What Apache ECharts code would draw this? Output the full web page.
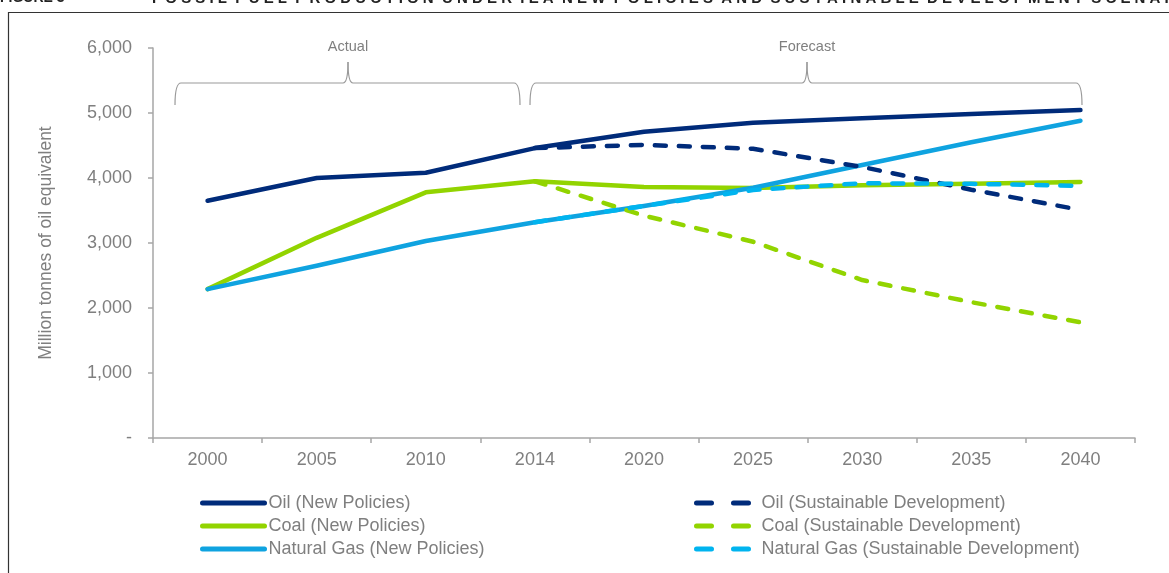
<!DOCTYPE html>
<html>
<head>
<meta charset="utf-8">
<script src="https://cdn.jsdelivr.net/npm/echarts@6/dist/echarts.min.js"></script>
<style>
  html, body { margin: 0; padding: 0; background: #fff; }
  #chart { width: 1169px; height: 573px; }
</style>
</head>
<body>
<div id="chart"></div>
<script>
// categories and values (Mtoe)
var years = ['2000', '2005', '2010', '2014', '2020', '2025', '2030', '2035', '2040'];
var oilNew = [3650, 4000, 4080, 4460, 4710, 4850, 4920, 4985, 5045];
var coalNew = [2290, 3080, 3780, 3950, 3860, 3845, 3890, 3910, 3940];
var gasNew = [2290, 2650, 3030, 3320, 3570, 3850, 4200, 4550, 4880];
var oilSD = [null, null, null, 4460, 4510, 4450, 4170, 3820, 3510];
var coalSD = [null, null, null, 3950, 3420, 3020, 2430, 2090, 1780];
var gasSD = [null, null, null, 3320, 3570, 3815, 3920, 3910, 3880];

var NAVY = '#002b7a', LIME = '#92d400', BLUE = '#0fa3e0', SKY = '#00b4ef';
var grey = '#7f7f7f';
var font = 'Liberation Sans, Arial, sans-serif';

function solid(name, color, data) {
    return {
        name: name, type: 'line', data: data, symbol: 'none',
        lineStyle: { color: color, width: 4.5, cap: 'round', join: 'round' },
        itemStyle: { color: color }
    };
}
function dashed(name, color, data) {
    return {
        name: name, type: 'line', data: data, symbol: 'none',
        lineStyle: { color: color, width: 4.5, type: [11, 13], cap: 'round' },
        itemStyle: { color: color }
    };
}

// curly bracket between a and b with its tip at m
function bracket(a, b, m) {
    var st = { stroke: '#999', lineWidth: 1.2, fill: 'none' };
    var top = 83, low = 105, tip = 62;
    return [
        { type: 'bezierCurve', silent: true, style: st, shape: { x1: a, y1: low, cpx1: a, cpy1: top, x2: a + 6, y2: top } },
        { type: 'line', silent: true, style: st, shape: { x1: a + 6, y1: top, x2: m - 5, y2: top } },
        { type: 'bezierCurve', silent: true, style: st, shape: { x1: m - 5, y1: top, cpx1: m, cpy1: top, x2: m, y2: tip } },
        { type: 'bezierCurve', silent: true, style: st, shape: { x1: m, y1: tip, cpx1: m, cpy1: top, x2: m + 5, y2: top } },
        { type: 'line', silent: true, style: st, shape: { x1: m + 5, y1: top, x2: b - 6, y2: top } },
        { type: 'bezierCurve', silent: true, style: st, shape: { x1: b - 6, y1: top, cpx1: b, cpy1: top, x2: b, y2: low } }
    ];
}

var graphics = [
    { type: 'rect', silent: true, shape: { x: 8.5, y: 12.5, width: 1300, height: 700 },
      style: { fill: 'none', stroke: '#333', lineWidth: 1.2 } },
    { type: 'text', x: 0, y: -9, silent: true,
      style: { text: 'FIGURE 3', fill: '#222', font: 'bold 14px ' + font } },
    { type: 'text', x: 152, y: -9, silent: true,
      style: { text: 'F O S S I L  F U E L  P R O D U C T I O N  U N D E R  I E A  N E W  P O L I C I E S  A N D  S U S T A I N A B L E  D E V E L O P M E N T  S C E N A R I O S',
               fill: '#222', font: 'bold 15px ' + font } },
    { type: 'text', x: 348, y: 39, silent: true,
      style: { text: 'Actual', fill: grey, font: '14.5px ' + font, textAlign: 'center' } },
    { type: 'text', x: 807, y: 39, silent: true,
      style: { text: 'Forecast', fill: grey, font: '14.5px ' + font, textAlign: 'center' } }
].concat(bracket(175, 520, 348), bracket(530, 1082, 807));

var myChart = echarts.init(document.getElementById('chart'));
var options = {
    backgroundColor: '#fff',
    animation: false,
    grid: { left: 153, right: 34, top: 48, bottom: 135 },
    xAxis: {
        type: 'category',
        data: years,
        boundaryGap: true,
        axisLine: { lineStyle: { color: '#a6a6a6', width: 1.5 } },
        axisTick: { show: true, length: 5, lineStyle: { color: '#a6a6a6', width: 1.5 } },
        axisLabel: { color: grey, fontSize: 18, fontFamily: font, margin: 13 }
    },
    yAxis: {
        type: 'value',
        min: 0, max: 6000, interval: 1000,
        name: 'Million tonnes of oil equivalent',
        nameLocation: 'middle',
        nameGap: 98,
        nameTextStyle: { color: grey, fontSize: 17.5, fontFamily: font },
        splitLine: { show: false },
        axisLine: { show: true, lineStyle: { color: '#a6a6a6', width: 1.5 } },
        axisTick: { show: true, length: 5, lineStyle: { color: '#a6a6a6', width: 1.5 } },
        axisLabel: {
            color: grey, fontSize: 18, fontFamily: font, margin: 21,
            formatter: function (v) { return v === 0 ? '-' : v.toLocaleString('en-US'); }
        }
    },
    legend: [
        {
            left: 195, top: 489, orient: 'vertical',
            itemWidth: 62, itemHeight: 14, itemGap: 5,
            itemStyle: { opacity: 0 },
            lineStyle: { width: 5, cap: 'round' },
            textStyle: { color: grey, fontSize: 18, fontFamily: font, padding: [0, 0, 0, -1] },
            data: ['Oil (New Policies)', 'Coal (New Policies)', 'Natural Gas (New Policies)']
        },
        {
            left: 689, top: 489, orient: 'vertical',
            itemWidth: 57, itemHeight: 14, itemGap: 5,
            itemStyle: { opacity: 0 },
            lineStyle: { width: 5, cap: 'round', type: [15, 22] },
            textStyle: { color: grey, fontSize: 18, fontFamily: font, padding: [0, 0, 0, 3] },
            data: ['Oil (Sustainable Development)', 'Coal (Sustainable Development)', 'Natural Gas (Sustainable Development)']
        }
    ],
    graphic: graphics,
    series: [
        solid('Oil (New Policies)', NAVY, oilNew),
        solid('Coal (New Policies)', LIME, coalNew),
        solid('Natural Gas (New Policies)', BLUE, gasNew),
        dashed('Oil (Sustainable Development)', NAVY, oilSD),
        dashed('Coal (Sustainable Development)', LIME, coalSD),
        dashed('Natural Gas (Sustainable Development)', SKY, gasSD)
    ]
};
myChart.setOption(options);
</script>
</body>
</html>
